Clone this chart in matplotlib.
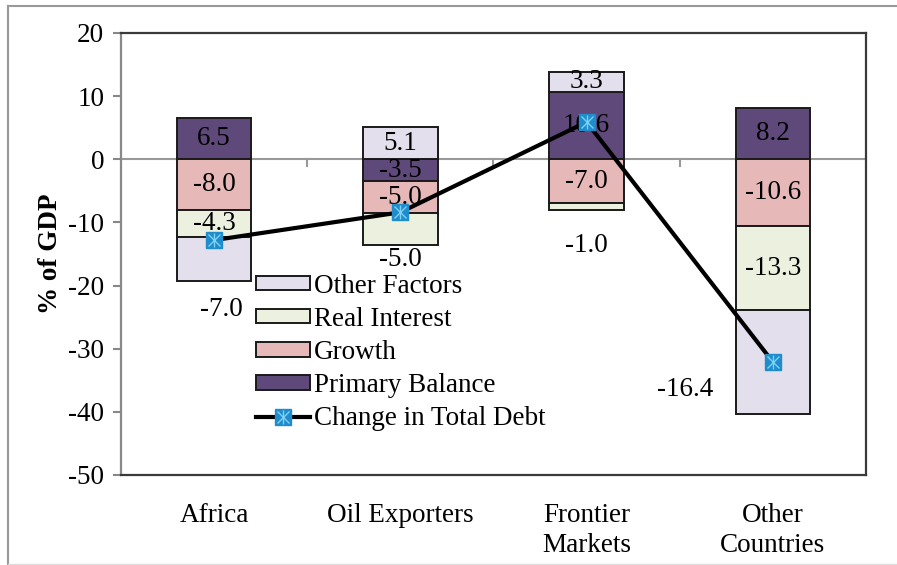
import numpy as np
import matplotlib
matplotlib.use("Agg")
from matplotlib import pyplot as plt
from matplotlib.lines import Line2D
from matplotlib.legend_handler import HandlerTuple

plt.rcParams['font.family'] = ['Liberation Serif', 'DejaVu Serif']
plt.rcParams['axes.unicode_minus'] = False

# data (% of GDP)
categories = ["Africa", "Oil Exporters", "Frontier\nMarkets", "Other\nCountries"]
primary_balance = [6.5, -3.5, 10.6, 8.2]
growth = [-8.0, -5.0, -7.0, -10.6]
real_interest = [-4.3, -5.0, -1.0, -13.3]
other_factors = [-7.0, 5.1, 3.3, -16.4]
total_change = [-12.8, -8.4, 5.9, -32.1]

series = [
    ("Primary Balance", primary_balance, "#5f497a"),
    ("Growth", growth, "#e6b9b8"),
    ("Real Interest", real_interest, "#ebf1de"),
    ("Other Factors", other_factors, "#e4dfec"),
]

# labels that Excel pushed outside their segment: (series, category) -> (dx, dy)
label_shift = {
    ("Other Factors", 0): (0.04, -8.0),
    ("Real Interest", 1): (0.0, -4.9),
    ("Real Interest", 2): (0.0, -6.1),
    ("Other Factors", 3): (-0.47, -4.3),
}

fs = 19.5

fig = plt.figure(figsize=(8.97, 5.65), dpi=100)
ax = fig.add_axes([0.1349, 0.1593, 0.9654 - 0.1349, 0.9416 - 0.1593])

x = np.arange(len(categories))
width = 0.4
pos_base = np.zeros(len(categories))
neg_base = np.zeros(len(categories))
handles = {}
for name, vals, col in series:
    vals = np.array(vals)
    bottoms = np.where(vals >= 0, pos_base, neg_base)
    bars = ax.bar(x, vals, width, bottom=bottoms, color=col, edgecolor="#1a1a1a",
                  linewidth=1.4, zorder=2)
    handles[name] = bars
    for i, v in enumerate(vals):
        dx, dy = label_shift.get((name, i), (0.0, 0.0))
        ax.text(x[i] + dx, bottoms[i] + v / 2 + dy, f"{v:.1f}", ha="center", va="center",
                fontsize=fs, zorder=3)
    pos_base = pos_base + np.where(vals >= 0, vals, 0)
    neg_base = neg_base + np.where(vals < 0, vals, 0)

# change in total debt line
line, = ax.plot(x, total_change, color="black", lw=3.0, marker="s", markersize=11,
                markerfacecolor="#1f8ccc", markeredgecolor="#1f8ccc", zorder=4)
star1, = ax.plot(x, total_change, ls="none", marker="x", markersize=8,
                 markeredgecolor="#7fd0f5", markeredgewidth=1.0, zorder=5)
star2, = ax.plot(x, total_change, ls="none", marker="|", markersize=10,
                 markeredgecolor="#7fd0f5", markeredgewidth=1.0, zorder=5)

# zero line with category dividers
ax.axhline(0, color="#999999", lw=1.5, zorder=1)
for b in x[:-1] + 0.5:
    ax.plot([b, b], [0, -1.0], color="#999999", lw=1.5, zorder=1)

ax.set_xlim(-0.5, len(categories) - 0.5)
ax.set_ylim(-50, 20)
ax.set_yticks(np.arange(-50, 21, 10))
ax.set_xticks(x)
ax.set_xticklabels(categories, fontsize=fs, linespacing=1.25)
ax.tick_params(axis="x", length=0, pad=20)
ax.tick_params(axis="y", labelsize=fs, length=6, color="#888888", width=1.5, pad=6)
ax.set_ylabel("% of GDP", fontsize=fs, fontweight="bold", labelpad=4)

for side in ["top", "right", "bottom"]:
    ax.spines[side].set_color("#3a3a3a")
    ax.spines[side].set_linewidth(1.6)
ax.spines["left"].set_color("#888888")
ax.spines["left"].set_linewidth(1.6)

leg = ax.legend(
    [handles["Other Factors"], handles["Real Interest"], handles["Growth"],
     handles["Primary Balance"], (line, star1, star2)],
    ["Other Factors", "Real Interest", "Growth", "Primary Balance", "Change in Total Debt"],
    handler_map={tuple: HandlerTuple(ndivide=1)},
    loc="upper left", bbox_to_anchor=(0.163, 0.486), frameon=False, fontsize=fs,
    handlelength=2.0, handleheight=0.45, handletextpad=0.15, labelspacing=0.3,
    borderpad=0.0)

# outer chart border
fig.add_artist(Line2D([0.009, 0.009], [0.0, 0.989], color="#999999", lw=1.5))
fig.add_artist(Line2D([0.009, 1.0], [0.989, 0.989], color="#999999", lw=1.5))
fig.add_artist(Line2D([0.009, 1.0], [0.002, 0.002], color="#dddddd", lw=1.0))

fig.savefig("out.png", dpi=100)
